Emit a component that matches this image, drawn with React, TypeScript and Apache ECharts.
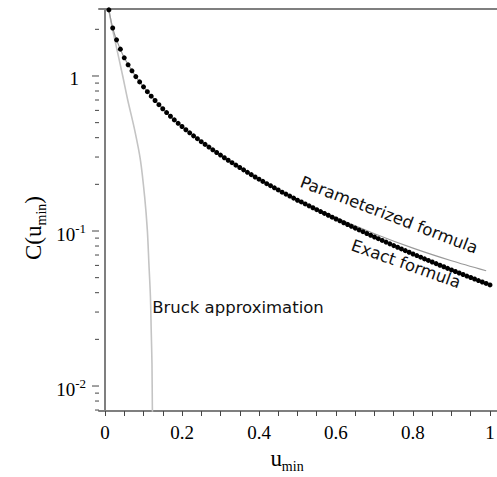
import React, { useEffect, useRef } from "react";
import * as echarts from "echarts";

// ---- axis ranges / ticks ----
const X_MIN = -0.0156;
const X_MAX = 1.0182;
const Y_MIN = 0.0069;
const Y_MAX = 2.705;
const xTickValues = [0, 0.05, 0.1, 0.15, 0.2, 0.25, 0.3, 0.35, 0.4, 0.45, 0.5, 0.55, 0.6, 0.65, 0.7, 0.75, 0.8, 0.85, 0.9, 0.95, 1];
const xLabelValues = [0, 0.2, 0.4, 0.6, 0.8, 1];
const yMajorTicks = [0.01, 0.1, 1];
const yMinorTicks = [0.007, 0.008, 0.009, 0.02, 0.03, 0.04, 0.05, 0.06, 0.07, 0.08, 0.09, 0.2, 0.3, 0.4, 0.5, 0.6, 0.7, 0.8, 0.9, 2];

// ---- Exact formula (dots) ----
const exactU = [
  0.01, 0.02, 0.03, 0.04, 0.05, 0.06, 0.07, 0.08, 0.09, 0.1,
  0.11, 0.12, 0.13, 0.14, 0.15, 0.16, 0.17, 0.18, 0.19, 0.2,
  0.21, 0.22, 0.23, 0.24, 0.25, 0.26, 0.27, 0.28, 0.29, 0.3,
  0.31, 0.32, 0.33, 0.34, 0.35, 0.36, 0.37, 0.38, 0.39, 0.4,
  0.41, 0.42, 0.43, 0.44, 0.45, 0.46, 0.47, 0.48, 0.49, 0.5,
  0.51, 0.52, 0.53, 0.54, 0.55, 0.56, 0.57, 0.58, 0.59, 0.6,
  0.61, 0.62, 0.63, 0.64, 0.65, 0.66, 0.67, 0.68, 0.69, 0.7,
  0.71, 0.72, 0.73, 0.74, 0.75, 0.76, 0.77, 0.78, 0.79, 0.8,
  0.81, 0.82, 0.83, 0.84, 0.85, 0.86, 0.87, 0.88, 0.89, 0.9,
  0.91, 0.92, 0.93, 0.94, 0.95, 0.96, 0.97, 0.98, 0.99, 1.0,
];
const exactC = [
  2.67, 2.04, 1.71, 1.49, 1.31, 1.18, 1.08, 0.991, 0.916, 0.851,
  0.792, 0.741, 0.695, 0.653, 0.615, 0.581, 0.55, 0.521, 0.495, 0.472,
  0.45, 0.43, 0.411, 0.394, 0.377, 0.362, 0.348, 0.334, 0.321, 0.309,
  0.297, 0.286, 0.276, 0.266, 0.257, 0.248, 0.239, 0.231, 0.223, 0.216,
  0.209, 0.202, 0.196, 0.19, 0.184, 0.178, 0.173, 0.168, 0.163, 0.158,
  0.154, 0.1495, 0.1453, 0.1412, 0.1373, 0.1335, 0.1298, 0.1263, 0.1228, 0.1195,
  0.1163, 0.1131, 0.1101, 0.1072, 0.1044, 0.1016, 0.099, 0.0964, 0.0939, 0.0915,
  0.0892, 0.0869, 0.0848, 0.0826, 0.0805, 0.0786, 0.0766, 0.0747, 0.0729, 0.0711,
  0.0694, 0.0678, 0.0661, 0.0646, 0.0631, 0.0616, 0.0601, 0.0588, 0.0574, 0.0561,
  0.0548, 0.0536, 0.0524, 0.0512, 0.0501, 0.049, 0.0479, 0.0469, 0.0459, 0.0449,
];

// ---- Parameterized formula (grey line) ----
const paramU = [0.01, 0.02, 0.03, 0.05, 0.08, 0.1, 0.15, 0.2, 0.3, 0.4, 0.5, 0.6, 0.7, 0.8, 0.9, 0.99];
const paramC = [2.67, 2.04, 1.71, 1.31, 0.991, 0.851, 0.615, 0.472, 0.309, 0.216, 0.159, 0.1221, 0.0961, 0.0776, 0.0643, 0.0554];

// ---- Bruck approximation (light grey line) ----
const bruckU = [0.01, 0.0187, 0.0255, 0.046, 0.059, 0.077, 0.092, 0.103, 0.11, 0.114, 0.118, 0.12, 0.122, 0.123, 0.124];
const bruckC = [2.67, 2.04, 1.71, 1.0, 0.7, 0.449, 0.287, 0.166, 0.101, 0.0617, 0.0377, 0.023, 0.014, 0.0073, 0.006];

const SERIF = "Liberation Serif";
const SANS = "DejaVu Sans";
const AXIS_COLOR = "#7f7f7f";
const TICK_COLOR = "#444";
const TEXT_COLOR = "#000";
const LABEL_SIZE = 19;

export default function App() {
  const ref = useRef<HTMLDivElement>(null);

  useEffect(() => {
    if (!ref.current) return;
    const chart = echarts.init(ref.current, null, { renderer: "svg" });

    const tickData = [
      ...yMajorTicks.map((v) => [X_MIN, v, 7]),
      ...yMinorTicks.map((v) => [X_MIN, v, 4]),
    ];

    const nameRich = {
      a: { fontFamily: SERIF, fontSize: 23, lineHeight: 23, color: TEXT_COLOR, verticalAlign: "top" },
      s: { fontFamily: SERIF, fontSize: 14, lineHeight: 14, color: TEXT_COLOR, verticalAlign: "top", padding: [12, 0, 0, 0] },
    };

    const yLabelRich = {
      b: { fontFamily: SERIF, fontSize: LABEL_SIZE, lineHeight: LABEL_SIZE, fill: TEXT_COLOR, verticalAlign: "top", padding: [3, 0, 0, 0] },
      p: { fontFamily: SERIF, fontSize: 13, lineHeight: 13, fill: TEXT_COLOR, verticalAlign: "top" },
      one: { fontFamily: SERIF, fontSize: LABEL_SIZE, lineHeight: LABEL_SIZE, fill: TEXT_COLOR, verticalAlign: "top", padding: [3, 7, 0, 0] },
    };

    const option: any = {
      animation: false,
      backgroundColor: "#fff",
      grid: { left: 99, right: 0, top: 9, bottom: 66, outerBoundsMode: "none", containLabel: false },
      xAxis: [
        {
          type: "value",
          min: X_MIN,
          max: X_MAX,
          position: "bottom",
          axisLine: { show: true, lineStyle: { color: AXIS_COLOR, width: 2 } },
          axisTick: { show: true, customValues: xTickValues, length: 5, lineStyle: { color: TICK_COLOR, width: 1 } },
          axisLabel: { show: false },
          splitLine: { show: false },
          name: "{a|u}{s|min}",
          nameLocation: "middle",
          nameGap: 36,
          nameTextStyle: { padding: [0, 22, 0, 0], rich: nameRich },
        },
        {
          type: "value",
          min: X_MIN,
          max: X_MAX,
          position: "top",
          axisLine: { show: true, lineStyle: { color: AXIS_COLOR, width: 2 } },
          axisTick: { show: false },
          axisLabel: { show: false },
          splitLine: { show: false },
        },
      ],
      yAxis: {
        type: "log",
        logBase: 10,
        min: Y_MIN,
        max: Y_MAX,
        axisLine: { show: true, lineStyle: { color: AXIS_COLOR, width: 2 } },
        axisTick: { show: false },
        minorTick: { show: false },
        splitLine: { show: false },
        axisLabel: { show: false },
        name: "{a|C(u}{s|min}{a|)}",
        nameLocation: "middle",
        nameRotate: 90,
        nameGap: 54,
        nameTextStyle: { padding: [0, 36, 0, 0], rich: nameRich },
      },
      series: [
        {
          name: "Bruck approximation",
          type: "line",
          data: bruckU.map((u, i) => [u, bruckC[i]]),
          showSymbol: false,
          smooth: 0.3,
          lineStyle: { color: "#c4c4c4", width: 1.6 },
          z: 2,
        },
        {
          name: "Parameterized formula",
          type: "line",
          data: paramU.map((u, i) => [u, paramC[i]]),
          showSymbol: false,
          smooth: 0.3,
          lineStyle: { color: "#9a9a9a", width: 1.2 },
          z: 3,
        },
        {
          name: "Exact formula",
          type: "scatter",
          data: exactU.map((u, i) => [u, exactC[i]]),
          symbol: "circle",
          symbolSize: 5,
          itemStyle: { color: "#000", opacity: 1 },
          z: 4,
        },
        {
          // y-axis tick marks (major + minor, log spaced)
          type: "custom",
          silent: true,
          clip: false,
          data: tickData,
          renderItem: (params: any, api: any) => {
            const p = api.coord([api.value(0), api.value(1)]);
            const len = api.value(2);
            return {
              type: "line",
              shape: { x1: p[0] - len, y1: p[1], x2: p[0], y2: p[1] },
              style: { stroke: TICK_COLOR, lineWidth: 1 },
            };
          },
          z: 5,
        },
        {
          // x-axis tick labels
          type: "custom",
          silent: true,
          clip: false,
          data: xLabelValues.map((v) => [v, Y_MIN]),
          renderItem: (params: any, api: any) => {
            const v = api.value(0);
            const p = api.coord([v, api.value(1)]);
            return {
              type: "text",
              x: p[0],
              y: p[1] + 12,
              style: {
                text: String(Math.round(v * 10) / 10),
                fontSize: LABEL_SIZE,
                fontFamily: SERIF,
                fill: TEXT_COLOR,
                align: "center",
                verticalAlign: "top",
              },
            };
          },
          z: 5,
        },
        {
          // y-axis tick labels (powers of ten)
          type: "custom",
          silent: true,
          clip: false,
          data: yMajorTicks.map((v) => [X_MIN, v]),
          renderItem: (params: any, api: any) => {
            const v = api.value(1);
            const p = api.coord([api.value(0), v]);
            const e = Math.round(Math.log10(v));
            const text = e === 0 ? "{one|1}" : "{b|10}{p|" + e + "}";
            return {
              type: "text",
              x: p[0] - 13,
              y: p[1],
              style: {
                text,
                rich: yLabelRich,
                fontSize: LABEL_SIZE,
                fontFamily: SERIF,
                fill: TEXT_COLOR,
                align: "right",
                verticalAlign: "middle",
              },
            };
          },
          z: 5,
        },
      ],
      graphic: [
        {
          type: "text",
          x: 238,
          y: 307,
          style: { text: "Bruck approximation", font: "16.5px '" + SANS + "'", fill: "#111", align: "center", verticalAlign: "middle" },
        },
        {
          type: "text",
          x: 389,
          y: 215,
          rotation: (-21 * Math.PI) / 180,
          style: { text: "Parameterized formula", font: "16.5px '" + SANS + "'", fill: "#111", align: "center", verticalAlign: "middle" },
        },
        {
          type: "text",
          x: 406,
          y: 264,
          rotation: (-19.5 * Math.PI) / 180,
          style: { text: "Exact formula", font: "16.5px '" + SANS + "'", fill: "#111", align: "center", verticalAlign: "middle" },
        },
      ],
    };

    chart.setOption(option);
    return () => chart.dispose();
  }, []);

  return (
    <div
      ref={ref}
      style={{ position: "fixed", left: 0, top: 0, width: 497, height: 477 }}
    />
  );
}
